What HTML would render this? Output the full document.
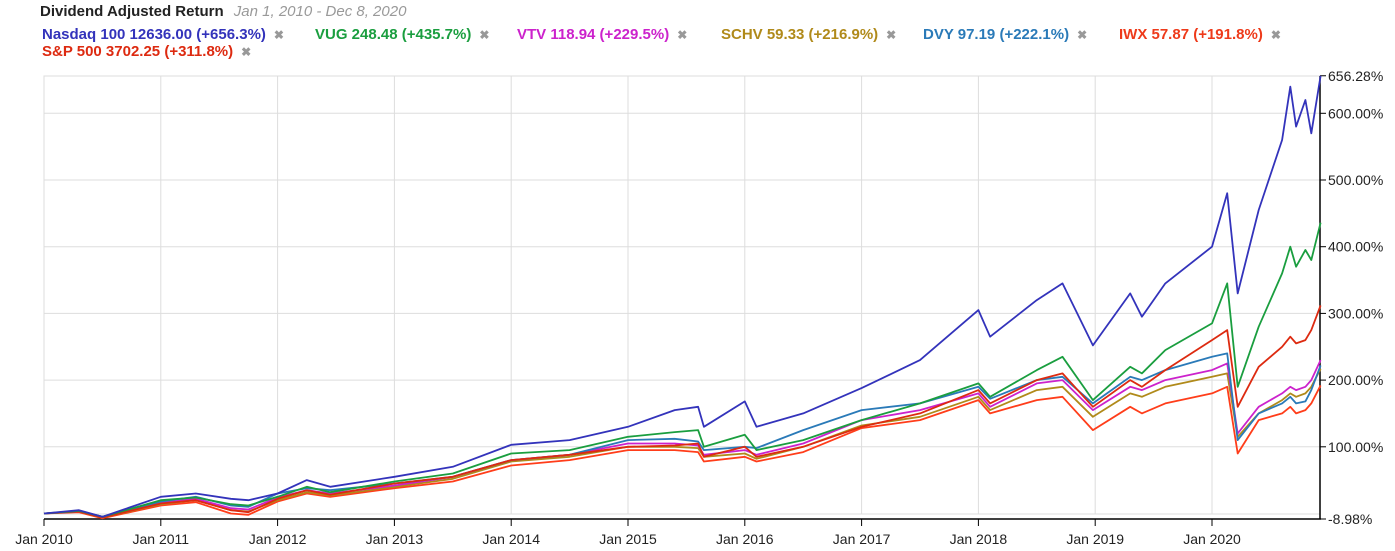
<!DOCTYPE html>
<html><head><meta charset="utf-8"><style>
body{margin:0;background:#fff;font-family:"Liberation Sans",Arial,sans-serif;}
#wrap{position:relative;width:1395px;height:551px;overflow:hidden;}
.t{position:absolute;white-space:nowrap;font-size:15px;font-weight:bold;letter-spacing:0;line-height:17px;}
.x{color:#999;font-size:12px;margin-left:8px;}
</style></head><body><div id="wrap">
<div class="t" style="left:40px;top:3px;font-size:15px;color:#222">Dividend Adjusted Return <span style="color:#999;font-style:italic;font-weight:normal;margin-left:6px">Jan 1, 2010 - Dec 8, 2020</span></div>
<div class="t" style="left:42px;top:26px;color:#3333bb">Nasdaq 100 12636.00 (+656.3%)<span class="x">✖</span></div>
<div class="t" style="left:315px;top:26px;color:#1a9e3f">VUG 248.48 (+435.7%)<span class="x">✖</span></div>
<div class="t" style="left:517px;top:26px;color:#cc22cc">VTV 118.94 (+229.5%)<span class="x">✖</span></div>
<div class="t" style="left:721px;top:26px;color:#b08a1a">SCHV 59.33 (+216.9%)<span class="x">✖</span></div>
<div class="t" style="left:923px;top:26px;color:#2a7ab8">DVY 97.19 (+222.1%)<span class="x">✖</span></div>
<div class="t" style="left:1119px;top:26px;color:#ee3a1a">IWX 57.87 (+191.8%)<span class="x">✖</span></div>
<div class="t" style="left:42px;top:43px;color:#dd2a10">S&amp;P 500 3702.25 (+311.8%)<span class="x">✖</span></div>
<svg id="svg" width="1395" height="551" style="position:absolute;left:0;top:0"></svg>
</div>
<script>
const dates=[2010.0,2010.3,2010.5,2011.0,2011.3,2011.6,2011.75,2012.0,2012.25,2012.45,2013.0,2013.5,2014.0,2014.5,2015.0,2015.4,2015.6,2015.65,2016.0,2016.1,2016.5,2017.0,2017.5,2018.0,2018.1,2018.5,2018.72,2018.98,2019.3,2019.4,2019.6,2020.0,2020.13,2020.22,2020.4,2020.6,2020.67,2020.72,2020.8,2020.85,2020.93];
const nasdaq=[0,5,-5,25,30,22,20,30,50,40,55,70,103,110,130,155,160,130,168,130,150,188,230,305,265,320,345,252,330,295,345,400,480,330,455,560,640,580,620,570,656];
const vug=[0,4,-5,20,24,14,12,25,40,32,48,60,90,95,115,122,125,100,118,95,110,140,165,195,175,215,235,170,220,210,245,285,345,190,280,360,400,370,395,380,436];
const sp500=[0,3,-6,15,20,5,2,22,35,28,45,55,80,88,100,102,105,85,100,85,100,130,150,185,165,200,210,160,200,190,215,260,275,160,220,250,265,255,260,275,312];
const dvy=[0,3,-5,18,25,12,10,30,38,35,45,55,80,88,110,112,108,95,100,98,125,155,165,190,172,200,205,165,205,200,215,235,240,110,150,165,175,165,168,185,222];
const vtv=[0,3,-5,16,22,8,6,24,35,30,42,55,80,88,105,105,102,88,95,88,105,140,155,180,160,195,200,155,190,185,200,215,225,120,160,180,190,185,190,200,230];
const schv=[0,3,-6,14,20,5,3,20,32,27,40,52,78,85,100,100,98,85,90,82,100,132,145,175,155,185,190,145,180,175,190,205,210,115,150,170,180,175,180,190,217];
const iwx=[0,2,-7,12,17,0,-2,18,30,25,38,48,72,80,95,95,92,78,85,78,92,128,140,170,150,170,175,125,160,150,165,180,190,90,140,150,160,150,155,165,192];
const yTicks=[-8.98,100,200,300,400,500,600,656.28];
const yLabels=["-8.98%","100.00%","200.00%","300.00%","400.00%","500.00%","600.00%","656.28%"];
const xYears=[2010,2011,2012,2013,2014,2015,2016,2017,2018,2019,2020];
const xLabels=["Jan 2010","Jan 2011","Jan 2012","Jan 2013","Jan 2014","Jan 2015","Jan 2016","Jan 2017","Jan 2018","Jan 2019","Jan 2020"];
const X=d=>44+(d-2010)*116.8;
const Y=v=>513.5-v*0.667;
const svg=document.getElementById('svg');
const NS='http://www.w3.org/2000/svg';
function mk(t,a){const e=document.createElementNS(NS,t);for(const k in a)e.setAttribute(k,a[k]);svg.appendChild(e);return e;}
[100,200,300,400,500,600].forEach(v=>{const g=mk('line',{x1:44,x2:1320,y1:Y(v),y2:Y(v),stroke:'#ddd'});

});
let b=mk('rect',{x:44,y:76,width:1276,height:438,fill:'none',stroke:'#ddd'});


xYears.forEach((yr,i)=>{const x=X(yr);
const g=mk('line',{x1:x,x2:x,y1:76,y2:514,stroke:'#ddd'});


const tk=mk('line',{x1:x,x2:x,y1:519,y2:526,stroke:'#000'});


const t=mk('text',{x:x,y:544,'text-anchor':'middle','font-size':14,fill:'#222','font-family':'Liberation Sans, sans-serif'});t.textContent=xLabels[i];

});
let ax=mk('line',{x1:44,x2:1321,y1:519,y2:519,stroke:'#000','stroke-width':1.5});


let ay=mk('line',{x1:1320,x2:1320,y1:76,y2:519,stroke:'#000','stroke-width':1.5});


yTicks.forEach((v,i)=>{const y=i==0?519:Y(v);
const tk=mk('line',{x1:1320,x2:1326,y1:y,y2:y,stroke:'#000'});


const t=mk('text',{x:1328,y:y+5,'font-size':14,fill:'#222','font-family':'Liberation Sans, sans-serif'});t.textContent=yLabels[i];

});
const series=[['iwx',iwx,'#ff3d1a'],['schv',schv,'#b08a1a'],['vtv',vtv,'#cc22cc'],['dvy',dvy,'#2a7ab8'],['sp500',sp500,'#dd2a10'],['vug',vug,'#1a9e3f'],['nasdaq',nasdaq,'#3333bb']];
series.forEach(s=>{const p=s[1].map((v,i)=>X(dates[i]).toFixed(1)+','+Y(v).toFixed(1)).join(' ');
const l=mk('polyline',{points:p,fill:'none',stroke:s[2],'stroke-width':1.8,'stroke-linejoin':'round'});

});
</script></body></html>
